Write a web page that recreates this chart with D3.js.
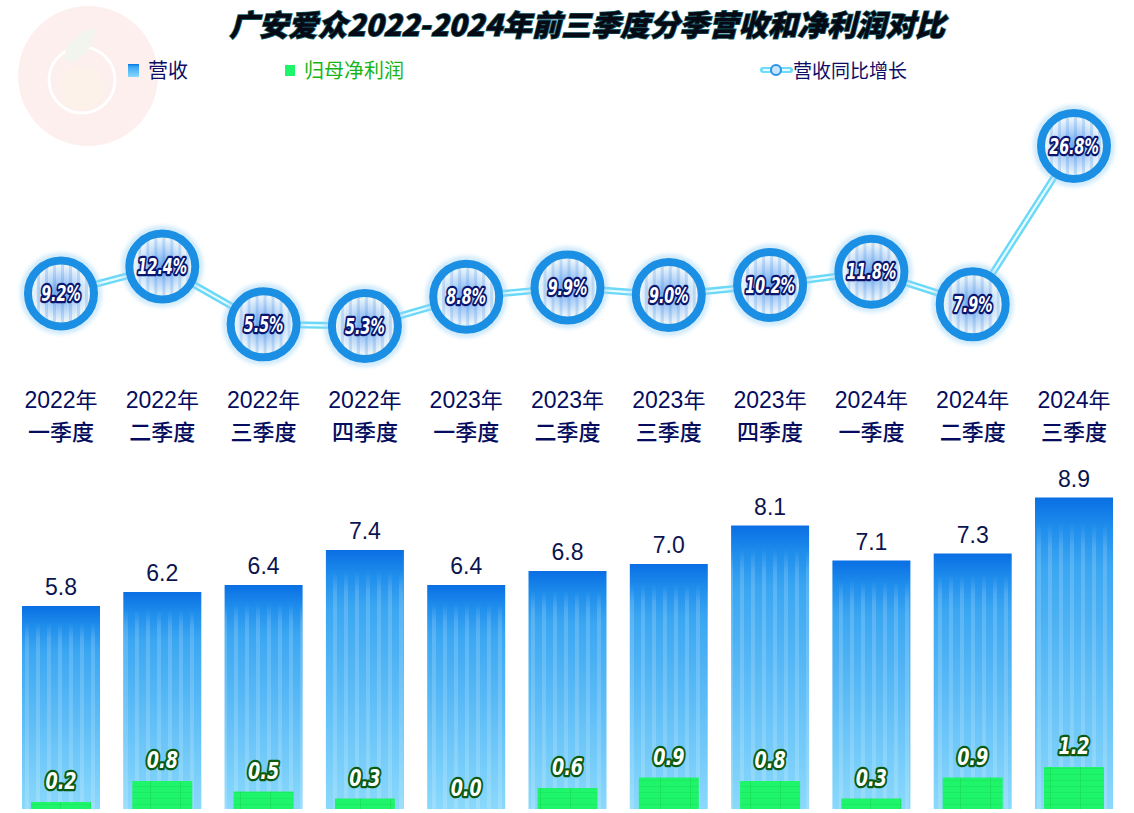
<!DOCTYPE html>
<html><head><meta charset="utf-8">
<script src="https://cdn.jsdelivr.net/npm/d3@7/dist/d3.min.js"></script>
<style>
body{margin:0;background:#fff;}
svg{display:block;}
</style></head>
<body>
<svg id="chart" width="1134" height="813"></svg>
<script>
const categoriesYear = ["2022年","2022年","2022年","2022年","2023年","2023年","2023年","2023年","2024年","2024年","2024年"];
const categoriesQuarter = ["一季度","二季度","三季度","四季度","一季度","二季度","三季度","四季度","一季度","二季度","三季度"];
const revenue = [5.8, 6.2, 6.4, 7.4, 6.4, 6.8, 7.0, 8.1, 7.1, 7.3, 8.9];
const netProfit = [0.2, 0.8, 0.5, 0.3, 0.0, 0.6, 0.9, 0.8, 0.3, 0.9, 1.2];
const revenueGrowth = [9.2, 12.4, 5.5, 5.3, 8.8, 9.9, 9.0, 10.2, 11.8, 7.9, 26.8];
const titleText = "广安爱众2022-2024年前三季度分季营收和净利润对比";
const legendLabels = ["营收", "归母净利润", "营收同比增长"];

const svg = d3.select("#chart");
const keys = d3.range(categoriesYear.length);

const defs = svg.append("defs");
const bg = defs.append("linearGradient").attr("id","barGrad").attr("x1",0).attr("y1",0).attr("x2",0).attr("y2",1);
bg.append("stop").attr("offset","0%").attr("stop-color","#0a6fe4");
bg.append("stop").attr("offset","10%").attr("stop-color","#1f8eec");
bg.append("stop").attr("offset","22%").attr("stop-color","#3aa6f2");
bg.append("stop").attr("offset","100%").attr("stop-color","#8ad9fc");
const sp = defs.append("pattern").attr("id","stripes").attr("patternUnits","userSpaceOnUse")
  .attr("width",11).attr("height",10);
sp.append("rect").attr("x",3).attr("width",4).attr("height",10).attr("fill","#ffffff").attr("opacity",0.16);
const sm = defs.append("linearGradient").attr("id","stripeMaskGrad").attr("x1",0).attr("y1",0).attr("x2",0).attr("y2",1);
sm.append("stop").attr("offset","0%").attr("stop-color","#000");
sm.append("stop").attr("offset","8%").attr("stop-color","#000");
sm.append("stop").attr("offset","16%").attr("stop-color","#fff");
sm.append("stop").attr("offset","100%").attr("stop-color","#fff");
const mask = defs.append("mask").attr("id","stripeMask").attr("maskContentUnits","objectBoundingBox");
mask.append("rect").attr("width",1).attr("height",1).attr("fill","url(#stripeMaskGrad)");
const gp = defs.append("pattern").attr("id","greenGrid").attr("patternUnits","userSpaceOnUse")
  .attr("width",30).attr("height",6);
gp.append("rect").attr("width",30).attr("height",6).attr("fill","#1ef56a");
gp.append("rect").attr("x",0).attr("width",1).attr("height",6).attr("fill","#16d850").attr("opacity",0.6);
gp.append("rect").attr("y",0).attr("width",30).attr("height",1).attr("fill","#16d850").attr("opacity",0.35);
const cg = defs.append("radialGradient").attr("id","circGrad");
cg.append("stop").attr("offset","0%").attr("stop-color","#6aa6f0");
cg.append("stop").attr("offset","40%").attr("stop-color","#a9cdf6");
cg.append("stop").attr("offset","80%").attr("stop-color","#e4f1fb");
cg.append("stop").attr("offset","100%").attr("stop-color","#f6faea");
const cp = defs.append("pattern").attr("id","circStripes").attr("patternUnits","userSpaceOnUse")
  .attr("width",8).attr("height",10);
cp.append("rect").attr("x",0).attr("width",3).attr("height",10).attr("fill","#2a7ae0").attr("opacity",0.2);
defs.append("filter").attr("id","glow").append("feGaussianBlur").attr("stdDeviation",2.5);

// watermark logo
const logo = svg.append("g").attr("opacity",0.55);
logo.append("circle").attr("cx",88).attr("cy",76).attr("r",70).attr("fill","#fbe3e0");
logo.append("circle").attr("cx",82).attr("cy",80).attr("r",33).attr("fill","none").attr("stroke","#ffffff").attr("stroke-width",3);
logo.append("circle").attr("cx",82).attr("cy",88).attr("r",22).attr("fill","#fae8d8");
logo.append("path").attr("d","M64,58 C66,42 80,32 95,28 C94,42 88,56 72,62 Z").attr("fill","#e6eee0");

// scales
const x = d3.scaleBand().domain(keys).range([10.35, 1124.65]).paddingInner(0.23).paddingOuter(0.115);
const yBar = d3.scaleLinear().domain([0, 10]).range([809, 459]);
const yLine = d3.scaleLinear().domain([0, 30]).range([370.4, 119.3]);
const cx = i => x(i) + x.bandwidth()/2;

// title
svg.append("text").attr("x",587).attr("y",36).attr("text-anchor","middle")
  .attr("font-family","'Noto Sans CJK SC', sans-serif").attr("font-weight",900)
  .attr("font-style","italic").attr("font-size",29.5)
  .attr("fill","#050a14").attr("stroke","#1d6b78").attr("stroke-width",1.4).attr("paint-order","stroke")
  .text(titleText);

// legend
const lg = svg.append("g").attr("font-family","'Noto Sans CJK SC', sans-serif").attr("font-size",20);
lg.append("rect").attr("x",128).attr("y",64).attr("width",11).attr("height",13).attr("fill","url(#barGrad)");
lg.append("text").attr("x",148).attr("y",78).attr("fill","#0c0c66").text(legendLabels[0]);
lg.append("rect").attr("x",285).attr("y",65).attr("width",10).attr("height",11).attr("fill","#1ef56a");
lg.append("text").attr("x",304).attr("y",78).attr("fill","#18b418").text(legendLabels[1]);
lg.append("line").attr("x1",763).attr("x2",790).attr("y1",70).attr("y2",70).attr("stroke","#6fdcfa").attr("stroke-width",6).attr("stroke-linecap","round");
lg.append("line").attr("x1",763).attr("x2",790).attr("y1",70).attr("y2",70).attr("stroke","#e6fbff").attr("stroke-width",2);
lg.append("circle").attr("cx",776).attr("cy",70).attr("r",5).attr("fill","#c7e4fb").attr("stroke","#2a93e6").attr("stroke-width",2);
lg.append("text").attr("x",793).attr("y",78).attr("font-size",19).attr("fill","#0c0c66").text(legendLabels[2]);

// category labels
const cat = svg.append("g").attr("font-family","'Noto Sans CJK SC', 'Liberation Sans', sans-serif")
  .attr("text-anchor","middle").attr("fill","#050c5e");
cat.selectAll("text.y").data(keys).join("text").attr("class","y")
  .attr("x",cx).attr("y",408).attr("font-family","'Liberation Sans', sans-serif").attr("font-size",23)
  .text(i => categoriesYear[i].replace("年","")).append("tspan").attr("font-family","'Noto Sans CJK SC'").attr("font-size",22).text("年");
cat.selectAll("text.q").data(keys).join("text").attr("class","q")
  .attr("x",cx).attr("y",440).attr("font-size",22).attr("font-weight",500).text(i => categoriesQuarter[i]);

// bars
const bars = svg.append("g");
bars.selectAll("rect.rev").data(keys).join("rect").attr("class","rev")
  .attr("x", i => x(i)).attr("width", x.bandwidth())
  .attr("y", i => yBar(revenue[i])).attr("height", i => yBar(0) - yBar(revenue[i]))
  .attr("fill","url(#barGrad)");
bars.selectAll("rect.str").data(keys).join("rect").attr("class","str")
  .attr("x", i => x(i)).attr("width", x.bandwidth())
  .attr("y", i => yBar(revenue[i])).attr("height", i => yBar(0) - yBar(revenue[i]))
  .attr("fill","url(#stripes)").attr("mask","url(#stripeMask)");
const gw = 60;
bars.selectAll("rect.np").data(keys).join("rect").attr("class","np")
  .attr("x", i => cx(i) - gw/2).attr("width", gw)
  .attr("y", i => yBar(netProfit[i])).attr("height", i => yBar(0) - yBar(netProfit[i]))
  .attr("fill","url(#greenGrid)");
// revenue labels
svg.append("g").selectAll("text").data(keys).join("text")
  .attr("x", cx).attr("y", i => yBar(revenue[i]) - 11)
  .attr("text-anchor","middle").attr("font-family","'Liberation Sans', Arial, sans-serif")
  .attr("font-size",23).attr("fill","#0b1450")
  .text(i => revenue[i].toFixed(1));
// net profit labels
svg.append("g").selectAll("text").data(keys).join("text")
  .attr("transform", i => `translate(${cx(i)},${yBar(netProfit[i]) - 13}) scale(0.85,1)`)
  .attr("text-anchor","middle").attr("font-family","'DejaVu Sans Condensed','DejaVu Sans', sans-serif")
  .attr("font-weight","bold").attr("font-style","italic").attr("font-size",23)
  .attr("fill","#ffffff").attr("stroke","#0a5a12").attr("stroke-width",4.5).attr("stroke-linejoin","round")
  .attr("paint-order","stroke")
  .text(i => netProfit[i].toFixed(1));

// growth line
const lineGen = d3.line().x(i => cx(i)).y(i => yLine(revenueGrowth[i]));
const lineG = svg.append("g");
lineG.append("path").attr("d", lineGen(keys)).attr("fill","none").attr("stroke","#6ad8f7").attr("stroke-width",7);
lineG.append("path").attr("d", lineGen(keys)).attr("fill","none").attr("stroke","#e8fbff").attr("stroke-width",2.2);

const circ = svg.append("g").selectAll("g").data(keys).join("g")
  .attr("transform", i => `translate(${cx(i)},${yLine(revenueGrowth[i])})`);
circ.append("circle").attr("r",38).attr("fill","none").attr("stroke","#9fd4f6").attr("stroke-width",3).attr("filter","url(#glow)");
circ.append("circle").attr("r",33).attr("fill","url(#circGrad)");
circ.append("circle").attr("r",33).attr("fill","url(#circStripes)");
circ.append("circle").attr("r",33).attr("fill","none").attr("stroke","#1a8fe4").attr("stroke-width",8);
circ.append("text").attr("text-anchor","middle").attr("dy",7.5).attr("transform","scale(0.74,1)")
  .attr("font-family","'DejaVu Sans Condensed','DejaVu Sans', sans-serif")
  .attr("font-weight","bold").attr("font-style","italic").attr("font-size",21.5)
  .attr("fill","#ffffff").attr("stroke","#0a1670").attr("stroke-width",4.5).attr("stroke-linejoin","round")
  .attr("paint-order","stroke")
  .text(i => revenueGrowth[i].toFixed(1) + "%");
</script>
</body></html>
